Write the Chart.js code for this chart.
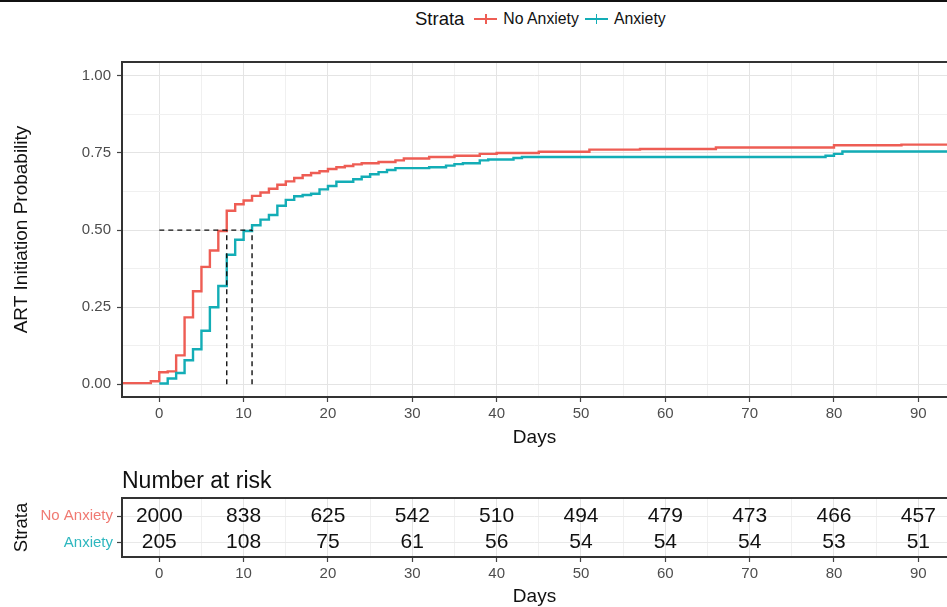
<!DOCTYPE html>
<html>
<head>
<meta charset="utf-8">
<title>ART initiation probability by anxiety</title>
<script src="https://cdn.jsdelivr.net/npm/chart.js@4.4.1/dist/chart.umd.min.js"></script>
<style>
    html, body { margin: 0; padding: 0; background: #fff; }
    body { width: 947px; height: 607px; position: relative; overflow: hidden; font-family: 'Liberation Sans', Arial, sans-serif; }
    .topline { position: absolute; left: 0; top: 0; width: 947px; height: 2px; background: #111; }
    #kmChart { position: absolute; left: 0; top: 0; }
    #riskChart { position: absolute; left: 0; top: 455px; }
    .legend { position: absolute; left: 415px; top: 8px; height: 22px; display: flex; align-items: center; white-space: nowrap; color: #111; }
    .legend .ttl { font-size: 18.5px; margin-right: 10px; }
    .legend .key { position: relative; width: 23px; height: 2.5px; margin-right: 6px; }
    .legend .key::after { content: ''; position: absolute; left: 11px; top: -4px; width: 1.5px; height: 10px; background: inherit; }
    .legend .lbl { font-size: 15.8px; margin-right: 6px; }
</style>
</head>
<body>
<div class="topline"></div>
<div class="legend" id="legend"><span class="ttl">Strata</span></div>
<canvas id="kmChart" width="947" height="455"></canvas>
<canvas id="riskChart" width="947" height="152"></canvas>
<script>
const FONT = "'Liberation Sans', Arial, sans-serif";

// strata
const strata = ['No Anxiety', 'Anxiety'];

// cumulative ART initiation probability
const noAnxDays = [-5, -1, 0, 1, 2, 3, 4, 5, 6, 7, 8, 9, 10, 11, 12, 13, 14, 15, 16, 17, 18, 19, 20, 21, 22, 23, 24, 26, 28, 29, 32, 35, 38, 40, 45, 51, 57, 66, 80, 88, 95];
const noAnxProb = [0.004, 0.01, 0.039, 0.042, 0.094, 0.217, 0.302, 0.381, 0.434, 0.497, 0.563, 0.584, 0.596, 0.611, 0.622, 0.634, 0.647, 0.658, 0.669, 0.678, 0.685, 0.691, 0.698, 0.704, 0.708, 0.713, 0.717, 0.721, 0.726, 0.732, 0.737, 0.741, 0.747, 0.750, 0.754, 0.761, 0.763, 0.768, 0.775, 0.777, 0.777];
const anxDays = [0, 1, 2, 3, 4, 5, 6, 7, 8, 9, 10, 11, 12, 13, 14, 15, 16, 17, 18, 19, 20, 21, 23, 24, 25, 26, 27, 28, 32, 34, 35, 36, 38, 39, 42, 43, 79, 80, 81, 95];
const anxProb = [0.003, 0.019, 0.037, 0.078, 0.114, 0.174, 0.25, 0.319, 0.42, 0.469, 0.497, 0.516, 0.534, 0.549, 0.579, 0.598, 0.610, 0.614, 0.618, 0.632, 0.643, 0.657, 0.665, 0.673, 0.681, 0.688, 0.695, 0.701, 0.704, 0.709, 0.714, 0.717, 0.726, 0.729, 0.734, 0.737, 0.741, 0.747, 0.755, 0.755];

// median initiation times
const medianDays = [8, 11];
const medianLevel = 0.5;

// ticks
const xMajor = [0, 10, 20, 30, 40, 50, 60, 70, 80, 90];
const xMinor = [5, 15, 25, 35, 45, 55, 65, 75, 85];
const yMajor = [0, 0.25, 0.5, 0.75, 1];
const yMinor = [0.125, 0.375, 0.625, 0.875];

// number at risk
const riskDays = [0, 10, 20, 30, 40, 50, 60, 70, 80, 90];
const riskNoAnx = [2000, 838, 625, 542, 510, 494, 479, 473, 466, 457];
const riskAnx = [205, 108, 75, 61, 56, 54, 54, 54, 53, 51];

const lineColors = ['#EE5D54', '#13ADB6'];
const labelColors = ['#F07A72', '#2EB7BF'];

Chart.defaults.font.family = FONT;
Chart.defaults.color = '#4D4D4D';

const legend = document.getElementById('legend');
strata.forEach((name, i) => {
    const key = document.createElement('span');
    key.className = 'key';
    key.style.background = lineColors[i];
    const lbl = document.createElement('span');
    lbl.className = 'lbl';
    lbl.textContent = name;
    legend.append(key, lbl);
});

const isIn = (list, v) => list.some(m => Math.abs(m - v) < 1e-9);
const allTicks = (a, b) => a.concat(b).sort((p, q) => p - q);
const toPoints = (xs, ys) => xs.map((x, i) => ({ x, y: ys[i] }));

const panelBorder = {
    id: 'panelBorder',
    afterDraw(chart) {
        const { ctx, chartArea: a } = chart;
        ctx.save();
        ctx.strokeStyle = '#333';
        ctx.lineWidth = 2;
        ctx.beginPath();
        ctx.moveTo(a.right + 2, a.top);
        ctx.lineTo(a.left, a.top);
        ctx.lineTo(a.left, a.bottom);
        ctx.lineTo(a.right + 2, a.bottom);
        ctx.stroke();
        ctx.restore();
    }
};

function xAxis(height, titlePad) {
    return {
        type: 'linear',
        min: -4.42,
        max: 93.4,
        afterBuildTicks: s => { s.ticks = allTicks(xMajor, xMinor).map(v => ({ value: v })); },
        afterFit: s => { s.height = height; },
        border: { display: false },
        grid: {
            color: c => isIn(xMajor, c.tick.value) ? '#E4E4E4' : '#F0F0F0',
            tickColor: c => isIn(xMajor, c.tick.value) ? '#444' : 'rgba(0,0,0,0)',
            tickLength: 5,
            tickWidth: 1.2
        },
        ticks: {
            autoSkip: false, maxRotation: 0, padding: 3, color: '#4D4D4D',
            font: { size: 15 },
            callback: v => isIn(xMajor, v) ? String(v) : ''
        },
        title: { display: true, text: 'Days', color: '#111', font: { size: 19, lineHeight: 1 }, padding: { top: 0, bottom: titlePad } }
    };
}

// main KM panel
const dash = { borderColor: '#111', borderWidth: 1.4, borderDash: [5, 4], pointRadius: 0, fill: false, order: 0 };
const medianEnd = Math.max(...medianDays);

new Chart(document.getElementById('kmChart'), {
    type: 'line',
    data: {
        datasets: [
            { label: strata[0], data: toPoints(noAnxDays, noAnxProb), borderColor: lineColors[0], borderWidth: 2.4, stepped: 'before', pointRadius: 0, fill: false, order: 2 },
            { label: strata[1], data: toPoints(anxDays, anxProb), borderColor: lineColors[1], borderWidth: 2.4, stepped: 'before', pointRadius: 0, fill: false, order: 1 },
            { ...dash, data: [{ x: 0, y: medianLevel }, { x: medianEnd, y: medianLevel }] },
            ...medianDays.map(d => ({ ...dash, data: [{ x: d, y: 0 }, { x: d, y: medianLevel }] }))
        ]
    },
    options: {
        responsive: false,
        animation: false,
        layout: { padding: { top: 62, left: 0, right: 0, bottom: 0 } },
        plugins: { legend: { display: false }, tooltip: { enabled: false } },
        scales: {
            x: xAxis(455 - 397, 7.5),
            y: {
                type: 'linear',
                min: -0.041,
                max: 1.045,
                afterBuildTicks: s => { s.ticks = allTicks(yMajor, yMinor).map(v => ({ value: v })); },
                afterFit: s => { s.width = 122; },
                border: { display: false },
                grid: {
                    color: c => isIn(yMajor, c.tick.value) ? '#E4E4E4' : '#F0F0F0',
                    tickColor: c => isIn(yMajor, c.tick.value) ? '#444' : 'rgba(0,0,0,0)',
                    tickLength: 5,
                    tickWidth: 1.2
                },
                ticks: {
                    padding: 6, color: '#4D4D4D', font: { size: 15 },
                    callback: v => isIn(yMajor, v) ? v.toFixed(2) : ''
                },
                title: { display: true, text: 'ART Initiation Probability', color: '#111', font: { size: 19, lineHeight: 1 }, padding: { top: 12.5, bottom: 0 } }
            }
        }
    },
    plugins: [panelBorder]
});

// number at risk table
const riskNumbers = {
    id: 'riskNumbers',
    afterDatasetsDraw(chart) {
        const { ctx } = chart;
        ctx.save();
        ctx.font = '21px ' + FONT;
        ctx.fillStyle = '#111';
        ctx.textAlign = 'center';
        ctx.textBaseline = 'middle';
        chart.data.datasets.forEach((ds, i) => {
            chart.getDatasetMeta(i).data.forEach((pt, j) => ctx.fillText(String(ds.data[j].n), pt.x, pt.y));
        });
        ctx.restore();
    }
};

new Chart(document.getElementById('riskChart'), {
    type: 'scatter',
    data: {
        datasets: [riskNoAnx, riskAnx].map((counts, r) => ({
            label: strata[r],
            data: riskDays.map((d, i) => ({ x: d, y: r + 1, n: counts[i] })),
            pointRadius: 0,
            pointHoverRadius: 0
        }))
    },
    options: {
        responsive: false,
        animation: false,
        layout: { padding: 0 },
        plugins: {
            legend: { display: false },
            tooltip: { enabled: false },
            title: {
                display: true, text: 'Number at risk', align: 'start', fullSize: false, color: '#111',
                font: { size: 23, weight: 'normal', lineHeight: 1.2 },
                padding: { top: 13, bottom: 2.4 }
            }
        },
        scales: {
            x: xAxis(152 - 102, 0.8),
            y: {
                type: 'linear',
                min: 0.3,
                max: 2.55,
                reverse: true,
                afterBuildTicks: s => { s.ticks = strata.map((_, i) => ({ value: i + 1 })); },
                afterFit: s => { s.width = 122; },
                border: { display: false },
                grid: { color: '#E9E9E9', tickColor: '#444', tickLength: 5, tickWidth: 1.2 },
                ticks: {
                    padding: 4, font: { size: 15 },
                    color: c => labelColors[c.tick.value - 1],
                    callback: v => strata[v - 1]
                },
                title: { display: true, text: 'Strata', color: '#111', font: { size: 18.5, lineHeight: 1 }, padding: { top: 12.7, bottom: 0 } }
            }
        }
    },
    plugins: [riskNumbers, panelBorder]
});
</script>
</body>
</html>
